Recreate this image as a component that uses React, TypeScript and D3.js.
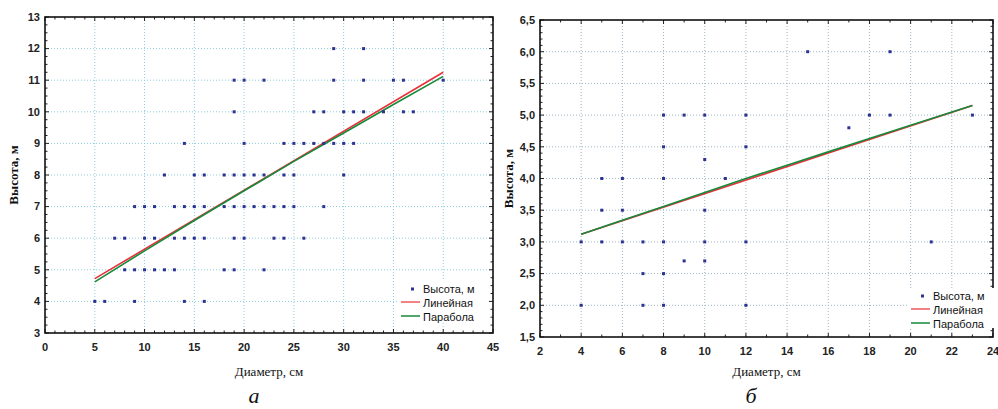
import React, { useEffect, useRef } from "react";
import * as d3 from "d3";

// панель а: диаметр (см), высота (м)
const panelAPoints: [number, number][] = [
  [5, 4], [6, 4], [9, 4], [14, 4], [16, 4],
  [8, 5], [9, 5], [10, 5], [11, 5], [12, 5], [13, 5], [18, 5], [19, 5], [22, 5],
  [7, 6], [8, 6], [10, 6], [11, 6], [13, 6], [14, 6], [15, 6], [16, 6], [19, 6], [20, 6], [23, 6], [24, 6], [26, 6],
  [9, 7], [10, 7], [11, 7], [13, 7], [14, 7], [15, 7], [16, 7], [18, 7], [19, 7], [20, 7], [21, 7], [22, 7], [23, 7], [24, 7], [25, 7], [28, 7],
  [12, 8], [15, 8], [16, 8], [18, 8], [19, 8], [20, 8], [21, 8], [22, 8], [24, 8], [25, 8], [30, 8],
  [14, 9], [20, 9], [24, 9], [25, 9], [26, 9], [27, 9], [28, 9], [29, 9], [30, 9], [31, 9],
  [19, 10], [27, 10], [28, 10], [30, 10], [31, 10], [32, 10], [34, 10], [36, 10], [37, 10],
  [19, 11], [20, 11], [22, 11], [29, 11], [32, 11], [35, 11], [36, 11], [40, 11],
  [29, 12], [32, 12],
];
const panelALinearX = [5, 40];
const panelALinearY = [4.72, 11.25];
const panelAParabolaX = [5, 10, 15, 20, 25, 30, 35, 40];
const panelAParabolaY = [4.62, 5.6, 6.56, 7.5, 8.43, 9.33, 10.23, 11.12];

// панель б
const panelBPoints: [number, number][] = [
  [4, 2], [7, 2], [8, 2], [12, 2],
  [7, 2.5], [8, 2.5],
  [9, 2.7], [10, 2.7],
  [4, 3], [5, 3], [6, 3], [7, 3], [8, 3], [10, 3], [12, 3], [21, 3],
  [5, 3.5], [6, 3.5], [10, 3.5],
  [5, 4], [6, 4], [8, 4], [11, 4],
  [10, 4.3],
  [8, 4.5], [12, 4.5],
  [17, 4.8],
  [8, 5], [9, 5], [10, 5], [12, 5], [18, 5], [19, 5], [23, 5],
  [15, 6], [19, 6],
];
const panelBLinearX = [4, 23];
const panelBLinearY = [3.12, 5.15];
const panelBParabolaX = [4, 6, 8, 10, 12, 14, 16, 18, 20, 23];
const panelBParabolaY = [3.12, 3.34, 3.56, 3.78, 4.0, 4.21, 4.42, 4.63, 4.84, 5.15];

const legendLabels = ["Высота, м", "Линейная", "Парабола"];
const xTitle = "Диаметр, см";
const yTitle = "Высота, м";

const ruFormat = d3.formatLocale({ decimal: ",", thousands: " ", grouping: [3], currency: ["", ""] });

type PanelProps = {
  left: number; right: number; top: number; bottom: number;
  xDomain: [number, number]; yDomain: [number, number];
  xStep: number; xMinor: number; yStep: number; yMinor: number;
  yFormat: (v: number) => string;
  points: [number, number][];
  linX: number[]; linY: number[]; parX: number[]; parY: number[];
  gridColor: string;
  legendX: number; legendY: number;
  yTitleX: number;
  letter: string; letterX: number;
};

const Panel = (p: PanelProps) => {
  const gRef = useRef<SVGGElement>(null);

  useEffect(() => {
    const g = d3.select(gRef.current);
    g.selectAll("*").remove();

    const x = d3.scaleLinear().domain(p.xDomain).range([p.left, p.right]);
    const y = d3.scaleLinear().domain(p.yDomain).range([p.bottom, p.top]);

    const xMajor = d3.range(p.xDomain[0], p.xDomain[1] + 1e-9, p.xStep);
    const yMajor = d3.range(p.yDomain[0], p.yDomain[1] + 1e-9, p.yStep);
    const xMinorT = d3.range(p.xDomain[0], p.xDomain[1] + 1e-9, p.xMinor);
    const yMinorT = d3.range(p.yDomain[0], p.yDomain[1] + 1e-9, p.yMinor);

    // сетка
    g.append("g").selectAll("line")
      .data(xMajor.slice(1, -1))
      .join("line")
      .attr("x1", d => x(d)).attr("x2", d => x(d))
      .attr("y1", p.top).attr("y2", p.bottom)
      .attr("stroke", p.gridColor).attr("stroke-width", 1)
      .attr("stroke-dasharray", "1,2");
    g.append("g").selectAll("line")
      .data(yMajor.slice(1, -1))
      .join("line")
      .attr("x1", p.left).attr("x2", p.right)
      .attr("y1", d => y(d)).attr("y2", d => y(d))
      .attr("stroke", p.gridColor).attr("stroke-width", 1)
      .attr("stroke-dasharray", "1,2");

    // засечки внутрь со всех сторон
    const ticks = g.append("g").attr("stroke", "#222").attr("stroke-width", 1);
    const isMajor = (v: number, step: number, start: number) =>
      Math.abs(((v - start) / step) - Math.round((v - start) / step)) < 1e-6;
    xMinorT.forEach(v => {
      const len = isMajor(v, p.xStep, p.xDomain[0]) ? 4 : 2.5;
      ticks.append("line").attr("x1", x(v)).attr("x2", x(v)).attr("y1", p.bottom).attr("y2", p.bottom - len);
      ticks.append("line").attr("x1", x(v)).attr("x2", x(v)).attr("y1", p.top).attr("y2", p.top + len);
    });
    yMinorT.forEach(v => {
      const len = isMajor(v, p.yStep, p.yDomain[0]) ? 4 : 2.5;
      ticks.append("line").attr("y1", y(v)).attr("y2", y(v)).attr("x1", p.left).attr("x2", p.left + len);
      ticks.append("line").attr("y1", y(v)).attr("y2", y(v)).attr("x1", p.right).attr("x2", p.right - len);
    });

    // рамка
    g.append("rect")
      .attr("x", p.left).attr("y", p.top)
      .attr("width", p.right - p.left).attr("height", p.bottom - p.top)
      .attr("fill", "none").attr("stroke", "#111").attr("stroke-width", 1.6);

    // подписи делений
    g.append("g").selectAll("text")
      .data(xMajor)
      .join("text")
      .attr("x", d => x(d)).attr("y", p.bottom + 18)
      .attr("text-anchor", "middle")
      .attr("font-family", "Liberation Sans, Arial, sans-serif")
      .attr("font-size", 11).attr("font-weight", "bold").attr("fill", "#222")
      .text(d => String(d));
    g.append("g").selectAll("text")
      .data(yMajor)
      .join("text")
      .attr("x", p.left - 5).attr("y", d => y(d)).attr("dy", "0.35em")
      .attr("text-anchor", "end")
      .attr("font-family", "Liberation Sans, Arial, sans-serif")
      .attr("font-size", 11).attr("font-weight", "bold").attr("fill", "#222")
      .text(d => p.yFormat(d));

    // линии регрессии
    const path = d3.line<[number, number]>().x(d => x(d[0])).y(d => y(d[1]));
    g.append("path")
      .attr("d", path(p.linX.map((v, i) => [v, p.linY[i]] as [number, number])))
      .attr("fill", "none").attr("stroke", "#e8303a").attr("stroke-width", 1.6);
    g.append("path")
      .attr("d", path(p.parX.map((v, i) => [v, p.parY[i]] as [number, number])))
      .attr("fill", "none").attr("stroke", "#16893a").attr("stroke-width", 1.6);

    // точки
    g.append("g").selectAll("rect")
      .data(p.points)
      .join("rect")
      .attr("x", d => x(d[0]) - 1.5).attr("y", d => y(d[1]) - 1.5)
      .attr("width", 3).attr("height", 3)
      .attr("fill", "#2b3290");

    // легенда
    const lg = g.append("g").attr("transform", `translate(${p.legendX},${p.legendY})`);
    lg.append("rect").attr("x", -4).attr("y", -8).attr("width", 90).attr("height", 40).attr("fill", "#fff");
    lg.append("rect").attr("x", 10).attr("y", -1.5).attr("width", 3).attr("height", 3).attr("fill", "#2b3290");
    lg.append("line").attr("x1", 0).attr("x2", 19).attr("y1", 13).attr("y2", 13)
      .attr("stroke", "#ef5a5a").attr("stroke-width", 1.5);
    lg.append("line").attr("x1", 0).attr("x2", 19).attr("y1", 27).attr("y2", 27)
      .attr("stroke", "#16893a").attr("stroke-width", 1.5);
    lg.selectAll("text.leg")
      .data(legendLabels)
      .join("text")
      .attr("class", "leg")
      .attr("x", 22).attr("y", (_, i) => i * 14).attr("dy", "0.35em")
      .attr("font-family", "Liberation Sans, Arial, sans-serif")
      .attr("font-size", 11).attr("fill", "#111")
      .text(d => d);

    // названия осей
    g.append("text")
      .attr("x", (p.left + p.right) / 2).attr("y", 376)
      .attr("text-anchor", "middle")
      .attr("font-family", "Liberation Serif, Times New Roman, serif")
      .attr("font-size", 13).attr("fill", "#111")
      .text(xTitle);
    g.append("text")
      .attr("transform", `translate(${p.yTitleX},${(p.top + p.bottom) / 2}) rotate(-90)`)
      .attr("text-anchor", "middle")
      .attr("font-family", "Liberation Serif, Times New Roman, serif")
      .attr("font-size", 13).attr("font-weight", "bold").attr("fill", "#111")
      .text(yTitle);

    g.append("text")
      .attr("x", p.letterX).attr("y", 403)
      .attr("text-anchor", "middle")
      .attr("font-family", "Liberation Serif, Times New Roman, serif")
      .attr("font-style", "italic")
      .attr("font-size", 22).attr("fill", "#111")
      .text(p.letter);
  }, [p]);

  return <g ref={gRef} />;
};

const App = () => {
  return (
    <svg width={998} height={409} style={{ position: "absolute", left: 0, top: 0, background: "#fff" }}>
      <rect width={998} height={409} fill="#fff" />
      <Panel
        left={45} right={493} top={17} bottom={333}
        xDomain={[0, 45]} yDomain={[3, 13]}
        xStep={5} xMinor={1} yStep={1} yMinor={0.25}
        yFormat={d => String(d)}
        points={panelAPoints}
        linX={panelALinearX} linY={panelALinearY}
        parX={panelAParabolaX} parY={panelAParabolaY}
        gridColor="#8fcde0"
        legendX={401} legendY={289}
        yTitleX={18}
        letter="а" letterX={254}
      />
      <Panel
        left={540} right={993} top={20} bottom={337}
        xDomain={[2, 24]} yDomain={[1.5, 6.5]}
        xStep={2} xMinor={1} yStep={0.5} yMinor={0.1}
        yFormat={d => ruFormat.format(".1f")(d)}
        points={panelBPoints}
        linX={panelBLinearX} linY={panelBLinearY}
        parX={panelBParabolaX} parY={panelBParabolaY}
        gridColor="#9fb6c4"
        legendX={911} legendY={296}
        yTitleX={513}
        letter="б" letterX={751}
      />
    </svg>
  );
};

export default App;
